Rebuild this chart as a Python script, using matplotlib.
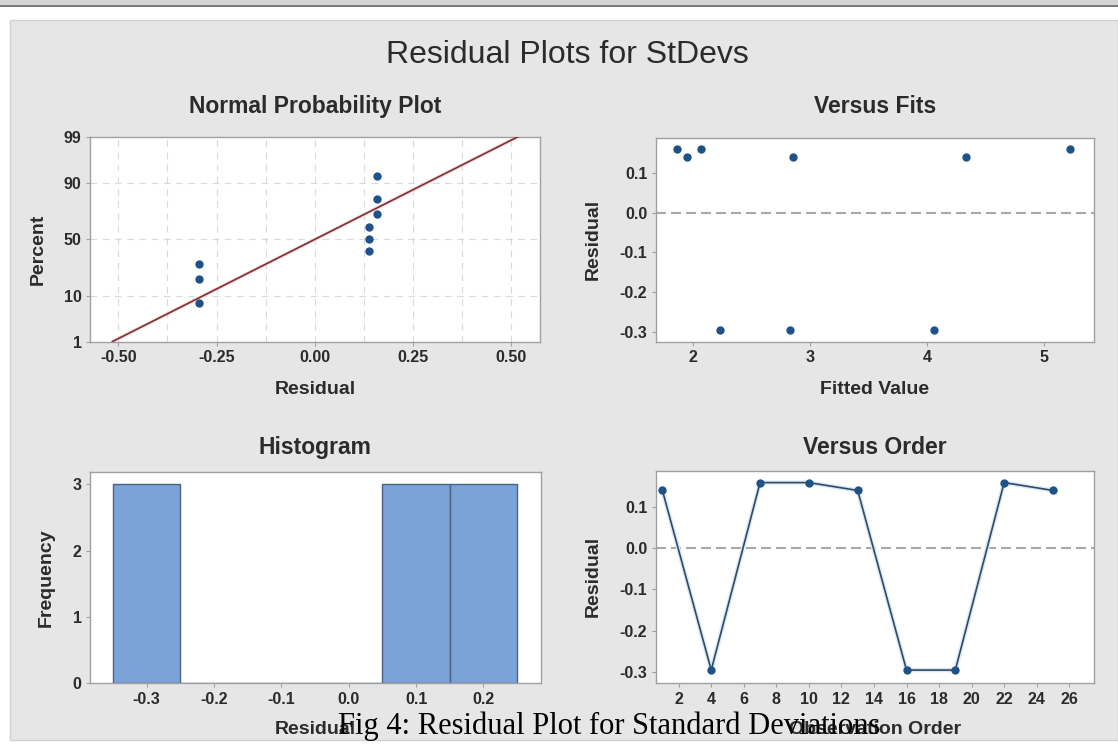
"""Minitab-style four-in-one residual plot for the StDevs response."""
from statistics import NormalDist

import matplotlib
matplotlib.use("Agg")
import matplotlib.pyplot as plt
from matplotlib.patches import Rectangle
import numpy as np

# observation order, residuals and fitted values
order = [1, 4, 7, 10, 13, 16, 19, 22, 25]
residuals = [0.139, -0.295, 0.158, 0.158, 0.139, -0.295, -0.295, 0.158, 0.139]
fits = [1.95, 2.233, 1.863, 2.071, 2.857, 2.829, 4.062, 5.22, 4.327]

prob_ticks = [1, 10, 50, 90, 99]
npp_xticks = [-0.50, -0.25, 0.00, 0.25, 0.50]
res_yticks = [0.1, 0.0, -0.1, -0.2, -0.3]
fit_xticks = [2, 3, 4, 5]
hist_xticks = [-0.3, -0.2, -0.1, 0.0, 0.1, 0.2]
hist_yticks = [0, 1, 2, 3]
order_xticks = list(range(2, 27, 2))

W, H = 1118, 751
PANEL = "#e6e6e6"
DOT = "#1f5288"
SPINE = "#a0a0a0"
TXT = "#2b2b2b"
SANS = ["Liberation Sans", "DejaVu Sans"]

plt.rcParams["font.family"] = SANS

fig = plt.figure(figsize=(W / 100, H / 100), dpi=100)
fig.patch.set_facecolor("white")

# page bits around the Minitab graph (kept behind the axes)
fig.patches.append(Rectangle((0, 1 - 5 / H), 1, 5 / H, transform=fig.transFigure,
                             facecolor="#d4d4d4", edgecolor="none", zorder=-5))
fig.patches.append(Rectangle((0, 1 - 6.5 / H), 1, 1.2 / H, transform=fig.transFigure,
                             facecolor="#7a7a7a", edgecolor="none", zorder=-5))
fig.patches.append(Rectangle((10 / W, 1 - 740 / H), 1 - 10 / W, 720 / H,
                             transform=fig.transFigure, facecolor=PANEL,
                             edgecolor="#d0d0d0", linewidth=1, zorder=-5))


def px_axes(l, t, r, b):
    ax = fig.add_axes([l / W, 1 - b / H, (r - l) / W, (b - t) / H])
    ax.set_facecolor("white")
    for s in ax.spines.values():
        s.set_color(SPINE)
        s.set_linewidth(1.0)
    ax.tick_params(length=3, width=0.8, color=SPINE, pad=3, labelsize=11.5,
                   labelcolor=TXT)
    return ax


def ftext(x, y, s, **kw):
    kw.setdefault("color", TXT)
    kw.setdefault("ha", "center")
    fig.text(x / W, 1 - y / H, s, **kw)


def bold_ticks(ax):
    for lab in ax.get_xticklabels() + ax.get_yticklabels():
        lab.set_fontweight("bold")


ftext(567, 62.7, "Residual Plots for StDevs", fontsize=23, va="baseline")

# ---- Normal probability plot
nd = NormalDist()
n = len(residuals)
srt = np.sort(residuals)
zpos = [nd.inv_cdf((i - 0.3) / (n + 0.4)) for i in range(1, n + 1)]
mu = float(np.mean(residuals))
sd = float(np.std(residuals, ddof=1))
zlo, zhi = nd.inv_cdf(0.01), nd.inv_cdf(0.99)

ax1 = px_axes(90, 136.7, 539.7, 341.7)
for gx in np.arange(-0.5, 0.51, 0.125):
    ax1.axvline(gx, color="#d9d9d9", lw=0.8, dashes=(6, 5), zorder=1)
for p in prob_ticks[1:-1]:
    ax1.axhline(nd.inv_cdf(p / 100), color="#d9d9d9", lw=0.8, dashes=(6, 5), zorder=1)
zl = np.array([zlo, zhi])
ax1.plot(mu + zl * sd, zl, color="#efc4c4", lw=2.2, zorder=2, solid_capstyle="butt")
ax1.plot(mu + zl * sd, zl, color="#7d2a34", lw=1.1, zorder=3)
ax1.plot(srt, zpos, "o", color=DOT, ms=6, mec="none", zorder=4)
ax1.set_xlim(-0.572, 0.572)
ax1.set_ylim(zlo, zhi)
ax1.set_xticks(npp_xticks)
ax1.set_xticklabels([f"{v:.2f}" for v in npp_xticks])
ax1.set_yticks([nd.inv_cdf(p / 100) for p in prob_ticks])
ax1.set_yticklabels([str(p) for p in prob_ticks])
bold_ticks(ax1)
ftext(314.9, 112.7, "Normal Probability Plot", fontsize=16.5, fontweight="bold",
      va="baseline")
ftext(315, 393.5, "Residual", fontsize=14, fontweight="bold", va="baseline")
ftext(38.3, 249, "Percent", fontsize=14, fontweight="bold", va="center",
      rotation=90)

# ---- Versus fits
ax2 = px_axes(655.7, 138.3, 1094.3, 341.7)
ax2.axhline(0, color="#a8a8a8", lw=1.5, dashes=(4.8, 2.4), zorder=1)
ax2.plot(fits, residuals, "o", color=DOT, ms=6, mec="none", zorder=3)
ax2.set_xlim(1.681, 5.427)
ax2.set_ylim(-0.3235, 0.186)
ax2.set_xticks(fit_xticks)
ax2.set_yticks(res_yticks)
ax2.set_yticklabels([f"{v:.1f}" for v in res_yticks])
bold_ticks(ax2)
ftext(874.7, 112.7, "Versus Fits", fontsize=16.5, fontweight="bold", va="baseline")
ftext(874.7, 393.5, "Fitted Value", fontsize=14, fontweight="bold", va="baseline")
ftext(593, 239, "Residual", fontsize=14, fontweight="bold", va="center",
      rotation=90)

# ---- Histogram
ax3 = px_axes(90, 471.7, 540.7, 683.3)
ax3.hist(residuals, bins=np.linspace(-0.35, 0.25, 7), color="#7ba3d8",
         edgecolor="#4a6285", linewidth=1.0, zorder=2)
ax3.set_xlim(-0.384, 0.285)
ax3.set_ylim(0, 3.19)
ax3.set_xticks(hist_xticks)
ax3.set_xticklabels([f"{v:.1f}" for v in hist_xticks])
ax3.set_yticks(hist_yticks)
bold_ticks(ax3)
ftext(315.4, 454.3, "Histogram", fontsize=16.5, fontweight="bold", va="baseline")
ftext(315, 734.3, "Residual", fontsize=14, fontweight="bold", va="baseline")
ftext(46.7, 577.5, "Frequency", fontsize=14, fontweight="bold", va="center",
      rotation=90)

# ---- Versus order
ax4 = px_axes(655.7, 471, 1094.3, 683.3)
ax4.axhline(0, color="#a8a8a8", lw=1.5, dashes=(4.8, 2.4), zorder=1)
ax4.plot(order, residuals, "-", color="#d6eafc", lw=3.2, zorder=2)
ax4.plot(order, residuals, "-o", color="#34495f", lw=1.2, ms=6, mfc=DOT,
         mec="none", zorder=3)
ax4.set_xlim(0.587, 27.54)
ax4.set_ylim(-0.327, 0.186)
ax4.set_xticks(order_xticks)
ax4.set_yticks(res_yticks)
ax4.set_yticklabels([f"{v:.1f}" for v in res_yticks])
bold_ticks(ax4)
ftext(874.7, 454.3, "Versus Order", fontsize=16.5, fontweight="bold", va="baseline")
ftext(874.7, 734.3, "Observation Order", fontsize=14, fontweight="bold",
      va="baseline")
ftext(593, 576, "Residual", fontsize=14, fontweight="bold", va="center",
      rotation=90)

# document caption printed over the graph
ftext(608.9, 734, "Fig 4: Residual Plot for Standard Deviations", fontsize=22,
      va="baseline", color="black",
      family=["Liberation Serif", "DejaVu Serif"])

fig.savefig("out.png", dpi=100, facecolor=fig.get_facecolor())
